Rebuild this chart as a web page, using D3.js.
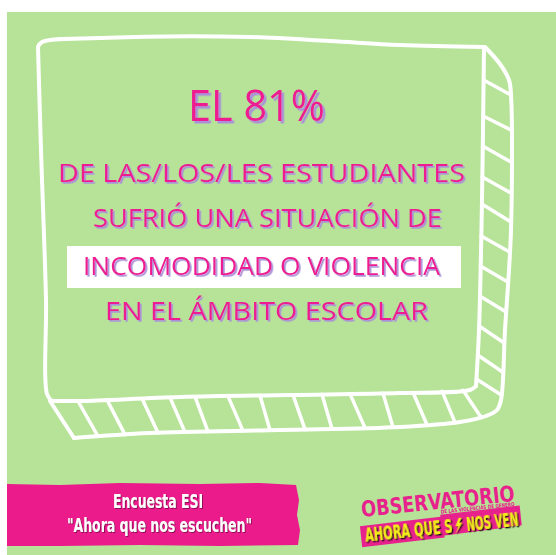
<!DOCTYPE html>
<html><head><meta charset="utf-8">
<script src="https://cdn.jsdelivr.net/npm/d3@7"></script>
<style>html,body{margin:0;padding:0;background:#fff;}svg{display:block;}</style>
</head><body>
<script>
// ---- content ----
const percentValue = 81;
const headline = "EL " + percentValue + "%";
const statLines = ["DE LAS/LOS/LES ESTUDIANTES", "SUFRIÓ UNA SITUACIÓN DE", "INCOMODIDAD O VIOLENCIA", "EN EL ÁMBITO ESCOLAR"];
const footerLines = ["Encuesta ESI", "\"Ahora que nos escuchen\""];
const logoTitle = "OBSERVATORIO";
const logoSub = "DE LAS VIOLENCIAS DE GÉNERO";
const logoTag = ["AHORA QUE S", "NOS VEN"];

const W = 556, H = 555;
const svg = d3.select("body").append("svg").attr("width", W).attr("height", H);
const defs = svg.append("defs");
function dropShadow(id, dx, dy, color, blur){
  defs.append("filter").attr("id", id).attr("x", "-10%").attr("y", "-30%").attr("width", "130%").attr("height", "170%")
    .append("feDropShadow").attr("dx", dx).attr("dy", dy).attr("stdDeviation", blur)
    .attr("flood-color", color).attr("flood-opacity", 1);
}
dropShadow("shBig", 2.5, 2.5, "#a990d9", 0.2);
dropShadow("shSmall", 1.7, 1.7, "#a990d9", 0.2);
dropShadow("shFoot", 1, 1, "#8f1058", 0.4);
dropShadow("shTag", 1.3, 1.3, "#111111", 0);

svg.append("rect").attr("width", W).attr("height", H).attr("fill", "#ffffff");
svg.append("rect").attr("x", 7).attr("y", 12).attr("width", 549).attr("height", 543).attr("fill", "#b6e398");

// ---- hand-drawn box ----
const line = d3.line().curve(d3.curveCatmullRom.alpha(0.5));
const box = svg.append("g").attr("fill", "none").attr("stroke", "#ffffff").attr("stroke-width", 4).attr("stroke-linecap", "round").attr("stroke-linejoin", "round");
const topEdge = [[38,47],[42,42],[100,38],[250,37],[330,41],[400,45],[484,47]];
const rightFront = [[484,47],[482,200],[479,330],[476,386]];
const bottomFront = [[476,386],[470,390],[400,393],[290,395],[180,397],[80,401],[52,401]];
const leftEdge = [[52,401],[47,394],[46,300],[41,150],[38,47]];
const outerRight = [[485,47],[500,64],[509,80],[511,95],[511,230],[505,330],[501,400],[497,410],[486,416],[460,422],[400,427],[280,430],[150,433],[74,438]];
const bottomDiag = [[74,438],[50,401]];
[topEdge, rightFront, bottomFront, leftEdge, outerRight, bottomDiag].forEach(p => box.append("path").attr("d", line(p)));

function yAt(pts, x){ for(let i=0;i<pts.length-1;i++){const a=pts[i],b=pts[i+1];const lo=Math.min(a[0],b[0]),hi=Math.max(a[0],b[0]);if(x>=lo&&x<=hi){const t=(x-a[0])/(b[0]-a[0]||1);return a[1]+t*(b[1]-a[1]);}} return pts[pts.length-1][1]; }
function xAt(pts, y){ for(let i=0;i<pts.length-1;i++){const a=pts[i],b=pts[i+1];const lo=Math.min(a[1],b[1]),hi=Math.max(a[1],b[1]);if(y>=lo&&y<=hi){const t=(y-a[1])/(b[1]-a[1]||1);return a[0]+t*(b[0]-a[0]);}} return pts[pts.length-1][0]; }
const bottomHatch = [[78,98],[107,125],[142,158],[170,185],[195,208],[228,243],[260,270],[293,305],[322,332],[350,365],[383,393],[413,427],[442,455],[463,481]];
const outerBottom = outerRight.slice(8);
bottomHatch.forEach(([a,b]) => box.append("line").attr("stroke-width",3.5)
  .attr("x1", a).attr("y1", yAt(bottomFront, a)).attr("x2", b).attr("y2", yAt(outerBottom, b)));
const rightHatch = [[80,95],[116,130],[146,162],[177,193],[204,222],[236,252],[266,282],[296,312],[326,343],[355,372],[379,395]];
const outerSide = outerRight.slice(3, 8);
rightHatch.forEach(([a,b]) => box.append("line").attr("stroke-width",3.5)
  .attr("x1", xAt(rightFront, a)).attr("y1", a).attr("x2", xAt(outerSide, b)).attr("y2", b));

// ---- texts ----
const pink = "#ee1e91";
const tg = svg.append("g");
function pinkText(txt, x, y, size, len, filt, weight){
  tg.append("text").attr("x", x).attr("y", y).attr("font-size", size).attr("fill", pink)
    .attr("font-family", "'Open Sans', 'DejaVu Sans', sans-serif").attr("font-weight", weight)
    .attr("filter", `url(#${filt})`)
    .attr("textLength", len).attr("lengthAdjust", "spacingAndGlyphs").text(txt);
}
pinkText(headline, 188, 121, 43, 137, "shBig", 500);
tg.append("rect").attr("x", 67).attr("y", 246).attr("width", 394).attr("height", 42).attr("fill", "#ffffff");
const lineSpec = [[58,182,407],[93,227,349],[83,275,357],[105,320,323]];
statLines.forEach((t,i) => pinkText(t, lineSpec[i][0], lineSpec[i][1], 25, lineSpec[i][2], "shSmall", 400));

// ---- footer band ----
const band = svg.append("g");
const bandPts = [[7,484],[60,485],[120,483],[200,484],[260,483],[296,485],[299,500],[297,515],[300,530],[298,545],[220,546],[140,545],[60,546],[7,546]];
band.append("path").attr("d", d3.line()(bandPts) + "Z").attr("fill", "#eb1b8c");
const narrow = "'Liberation Sans Narrow', 'DejaVu Sans Condensed', sans-serif";
[[113,508,90],[67,532,185]].forEach(([x,y,len],i) => {
  band.append("text").attr("x", x).attr("y", y).attr("fill", "#ffffff").attr("filter", "url(#shFoot)")
    .attr("font-family", narrow).attr("font-weight", 700).attr("font-size", 19)
    .attr("textLength", len).attr("lengthAdjust", "spacingAndGlyphs").text(footerLines[i]);
});

// ---- logo ----
const logo = svg.append("g").attr("transform", "translate(362,517) rotate(-6)");
logo.append("text").attr("x", 0).attr("y", 0).attr("fill", "#e8228d")
  .attr("font-family", narrow).attr("font-weight", 700).attr("font-size", 22)
  .attr("textLength", 154).attr("lengthAdjust", "spacingAndGlyphs").text(logoTitle);
logo.append("path").attr("d", "M-3,9 L78,8 L78,6 L158,5 L158,25 L80,27 L80,29 L-3,30 Z").attr("fill", "#e8228d");
logo.append("text").attr("x", 79).attr("y", 5).attr("fill", "#e8228d")
  .attr("font-family", narrow).attr("font-weight", 700).attr("font-size", 5.5)
  .attr("textLength", 74).attr("lengthAdjust", "spacingAndGlyphs").text(logoSub);
const tagG = logo.append("g").attr("filter", "url(#shTag)");
function tag(t, x, len){
  tagG.append("text").attr("x", x).attr("y", 25).attr("fill", "#f4ec1e")
    .attr("font-family", narrow).attr("font-weight", 700).attr("font-size", 19)
    .attr("textLength", len).attr("lengthAdjust", "spacingAndGlyphs").text(t);
}
tag(logoTag[0], 1, 88);
tagG.append("path").attr("d", "M96,11 L92,19 L95,19 L91,27 L99,16 L96,16 L99,11 Z").attr("fill", "#f4ec1e");
tag(logoTag[1], 103, 52);
</script>
</body></html>
